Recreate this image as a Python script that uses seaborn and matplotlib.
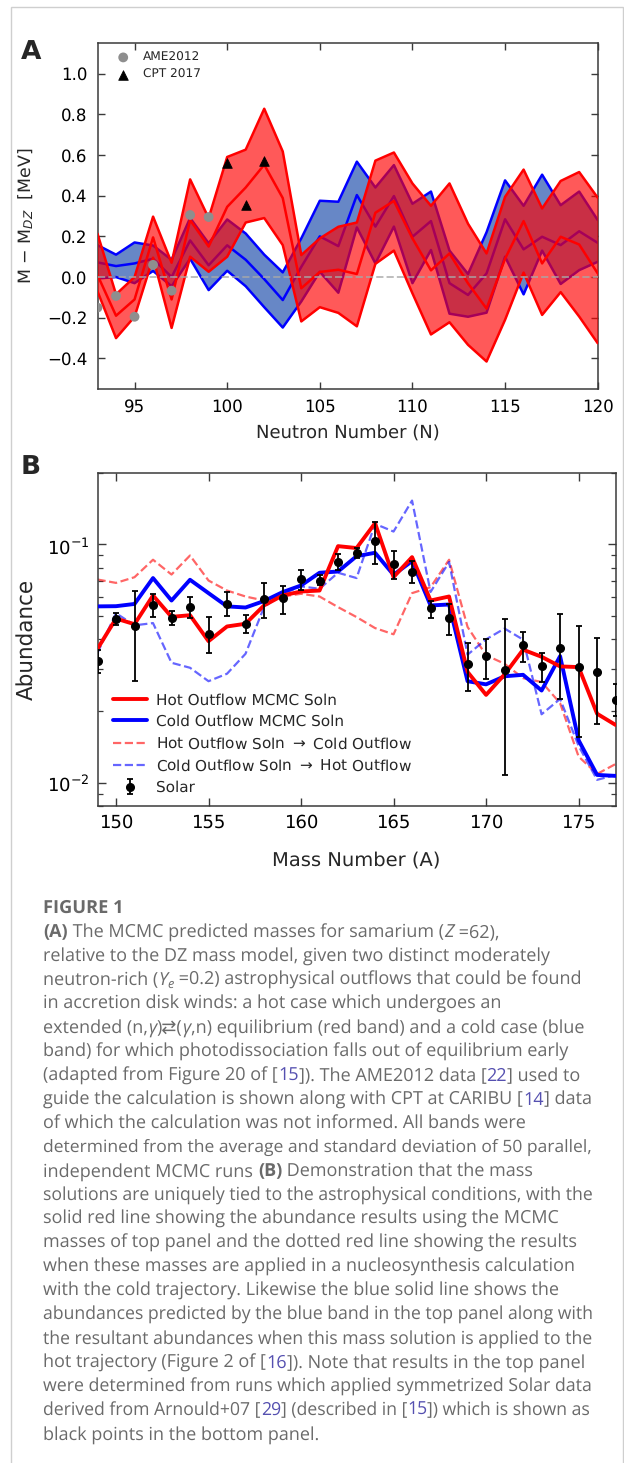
import matplotlib
matplotlib.use("Agg")
import matplotlib.pyplot as plt
import seaborn as sns
from matplotlib.ticker import NullFormatter, LogLocator, MultipleLocator
from matplotlib.patches import Rectangle

# ------------------------------------------------------------------ data A
neutron_n = list(range(93, 121))
cold_upper = [0.157, 0.11, 0.17, 0.155, 0.085, 0.29, 0.166, 0.283, 0.214, 0.11,
              0.023, 0.19, 0.375, 0.37, 0.567, 0.44, 0.55, 0.36, 0.42, 0.13,
              0.015, 0.22, 0.475, 0.35, 0.503, 0.353, 0.42, 0.28]
cold_mean = [0.072, 0.054, 0.067, 0.09, 0.0, 0.18, 0.058, 0.156, 0.085, -0.01,
             -0.113, 0.05, 0.2, 0.152, 0.403, 0.248, 0.398, 0.198, 0.275, -0.03,
             -0.088, 0.018, 0.284, 0.136, 0.198, 0.157, 0.225, 0.168]
cold_lower = [-0.007, 0.0, -0.03, 0.03, -0.045, 0.09, -0.064, 0.031, -0.045, -0.148,
              -0.248, -0.12, 0.026, -0.077, 0.244, 0.067, 0.248, -0.03, 0.133, -0.18,
              -0.195, -0.175, 0.1, -0.085, 0.13, -0.034, 0.034, 0.075]
hot_upper = [0.213, -0.085, 0.0, 0.297, 0.07, 0.48, 0.29, 0.59, 0.626, 0.827,
             0.617, 0.108, 0.19, 0.247, 0.268, 0.572, 0.612, 0.46, 0.35, 0.46,
             0.262, 0.116, 0.394, 0.528, 0.337, 0.472, 0.516, 0.39]
hot_mean = [0.01, -0.19, -0.11, 0.195, -0.11, 0.28, 0.15, 0.345, 0.44, 0.552,
            0.388, -0.055, 0.025, 0.036, 0.015, 0.316, 0.374, 0.19, 0.033, 0.116,
            -0.031, -0.155, 0.09, 0.275, 0.067, 0.198, 0.16, 0.018]
hot_lower = [-0.07, -0.30, -0.195, 0.095, -0.25, 0.1, 0.026, 0.1, 0.268, 0.29,
             0.157, -0.218, -0.148, -0.176, -0.242, 0.065, 0.13, -0.08, -0.282, -0.222,
             -0.333, -0.415, -0.21, 0.022, -0.186, -0.074, -0.194, -0.325]
ame_n = [93, 94, 95, 96, 97, 98, 99]
ame_dm = [-0.15, -0.093, -0.195, 0.06, -0.067, 0.305, 0.295]
cpt_n = [100, 101, 102]
cpt_dm = [0.56, 0.355, 0.572]

# ------------------------------------------------------------------ data B
mass_a = list(range(149, 178))
hot_mcmc = [0.0365, 0.0489, 0.0463, 0.0611, 0.0497, 0.0505, 0.0393, 0.0453, 0.0465, 0.0555,
            0.0611, 0.0635, 0.0641, 0.0984, 0.0966, 0.1228, 0.0730, 0.0885, 0.0582, 0.0605,
            0.0292, 0.0234, 0.0285, 0.0362, 0.0338, 0.0308, 0.0306, 0.0195, 0.0175]
cold_mcmc = [0.0550, 0.0551, 0.0563, 0.0723, 0.0582, 0.0711, 0.0625, 0.0550, 0.0544, 0.0579,
             0.0631, 0.0673, 0.0761, 0.0770, 0.0893, 0.0923, 0.0746, 0.0851, 0.0555, 0.0560,
             0.0267, 0.0259, 0.0280, 0.0284, 0.0244, 0.0340, 0.0151, 0.0108, 0.0107]
hot_to_cold = [0.0713, 0.0690, 0.0729, 0.0863, 0.0748, 0.0899, 0.0706, 0.0641, 0.0605, 0.0582,
               0.0605, 0.0621, 0.0605, 0.0546, 0.0496, 0.0446, 0.0420, 0.0625, 0.0662, 0.0863,
               0.0451, 0.0343, 0.0316, 0.0275, 0.0265, 0.0216, 0.0129, 0.0109, 0.0120]
cold_to_hot = [0.0351, 0.0515, 0.0458, 0.0468, 0.0319, 0.0304, 0.0267, 0.0287, 0.0348, 0.0546,
               0.0621, 0.0667, 0.0652, 0.0761, 0.0723, 0.1220, 0.1133, 0.1528, 0.0632, 0.0844,
               0.0345, 0.0400, 0.0444, 0.0399, 0.0194, 0.0225, 0.0143, 0.0103, 0.0108]
solar_y = [0.0324, 0.0485, 0.0453, 0.0555, 0.0491, 0.0546, 0.0420, 0.0563, 0.0465, 0.0588,
           0.0596, 0.0713, 0.0706, 0.0844, 0.0923, 0.1030, 0.0830, 0.0766, 0.0541, 0.0493,
           0.0316, 0.0340, 0.0297, 0.0378, 0.0308, 0.0368, 0.0306, 0.0292, 0.0222]
solar_lo = [0.0290, 0.0458, 0.0268, 0.0497, 0.0458, 0.0491, 0.0351, 0.0500, 0.0426, 0.0491,
            0.0513, 0.0646, 0.0673, 0.0778, 0.0877, 0.0825, 0.0718, 0.0689, 0.0491, 0.0416,
            0.0243, 0.0274, 0.0108, 0.0321, 0.0265, 0.0224, 0.0156, 0.0177, 0.0190]
solar_hi = [0.0360, 0.0515, 0.0638, 0.0621, 0.0526, 0.0605, 0.0497, 0.0631, 0.0507, 0.0689,
            0.0667, 0.0783, 0.0748, 0.0908, 0.0968, 0.1240, 0.0938, 0.0849, 0.0582, 0.0563,
            0.0386, 0.0402, 0.0487, 0.0430, 0.0351, 0.0509, 0.0455, 0.0407, 0.0260]

legend_b = ["Hot Outflow MCMC Soln", "Cold Outflow MCMC Soln",
            "Hot Outflow Soln $\\rightarrow$ Cold Outflow",
            "Cold Outflow Soln $\\rightarrow$ Hot Outflow", "Solar"]

# ------------------------------------------------------------------ caption text
caption_title = "FIGURE 1"
caption_lines = [
    [("(A)", "b"), (" The MCMC predicted masses for samarium (", "n"), ("Z", "i"), (" =62),", "n")],
    [("relative to the DZ mass model, given two distinct moderately", "n")],
    [("neutron-rich (", "n"), ("Y", "i"), ("e", "s"), (" =0.2) astrophysical outflows that could be found", "n")],
    [("in accretion disk winds: a hot case which undergoes an", "n")],
    [("extended (n,", "n"), ("γ", "i"), (")⇄(", "n"), ("γ", "i"), (",n) equilibrium (red band) and a cold case (blue", "n")],
    [("band) for which photodissociation falls out of equilibrium early", "n")],
    [("(adapted from Figure 20 of [", "n"), ("15", "l"), ("]). The AME2012 data [", "n"), ("22", "l"), ("] used to", "n")],
    [("guide the calculation is shown along with CPT at CARIBU [", "n"), ("14", "l"), ("] data", "n")],
    [("of which the calculation was not informed. All bands were", "n")],
    [("determined from the average and standard deviation of 50 parallel,", "n")],
    [("independent MCMC runs ", "n"), ("(B)", "b"), (" Demonstration that the mass", "n")],
    [("solutions are uniquely tied to the astrophysical conditions, with the", "n")],
    [("solid red line showing the abundance results using the MCMC", "n")],
    [("masses of top panel and the dotted red line showing the results", "n")],
    [("when these masses are applied in a nucleosynthesis calculation", "n")],
    [("with the cold trajectory. Likewise the blue solid line shows the", "n")],
    [("abundances predicted by the blue band in the top panel along with", "n")],
    [("the resultant abundances when this mass solution is applied to the", "n")],
    [("hot trajectory (Figure 2 of [", "n"), ("16", "l"), ("]). Note that results in the top panel", "n")],
    [("were determined from runs which applied symmetrized Solar data", "n")],
    [("derived from Arnould+07 [", "n"), ("29", "l"), ("] (described in [", "n"), ("15", "l"), ("]) which is shown as", "n")],
    [("black points in the bottom panel.", "n")],
]
line_right = [513.3, 563, 591.7, 517.3, 591.7, 577, 591.7, 591.7, 541.2, 591, 540,
              591.7, 571.8, 588, 583.8, 574.2, 591.7, 591.7, 591.7, 591.7, 591.7, 325.5]

# ------------------------------------------------------------------ style
sns.set_style("ticks")
plt.rcParams.update({
    "font.family": ["DejaVu Sans"],
    "xtick.direction": "in", "ytick.direction": "in",
    "xtick.top": True, "ytick.right": True,
    "axes.edgecolor": "#3a3a3a", "axes.linewidth": 1.1,
    "xtick.color": "#3a3a3a", "ytick.color": "#3a3a3a",
    "xtick.labelcolor": "black", "ytick.labelcolor": "black",
    "text.hinting": "no_hinting",
})

W, H = 624, 1463
fig = plt.figure(figsize=(W / 100, H / 100), dpi=100)


def rect(l, t, r, b):
    return [l / W, 1 - b / H, (r - l) / W, (b - t) / H]


# border frame
fig.add_artist(Rectangle((11 / W, -0.05), 611.5 / W, 1.05 - 7 / H, transform=fig.transFigure,
                         fill=False, edgecolor="#cfcfcf", lw=1.0, clip_on=False))

# ------------------------------------------------------------------ panel A
axA = fig.add_axes(rect(97.5, 43, 597.7, 389))
axA.fill_between(neutron_n, cold_lower, cold_upper, color="#6787c6", lw=0, zorder=1)
for arr in (cold_upper, cold_mean, cold_lower):
    sns.lineplot(x=neutron_n, y=arr, color="blue", lw=1.8, ax=axA, zorder=2)
axA.fill_between(neutron_n, hot_lower, hot_upper, color="red", alpha=0.65, lw=0, zorder=3)
for arr in (hot_upper, hot_mean, hot_lower):
    sns.lineplot(x=neutron_n, y=arr, color="red", lw=1.8, ax=axA, zorder=4)
axA.axhline(0, color="#a8a8a8", ls="--", lw=1.4, alpha=0.75, zorder=4.5)
sns.scatterplot(x=ame_n, y=ame_dm, color="#8e8e8e", marker="o", s=50, edgecolor="none",
                label="AME2012", ax=axA, zorder=6)
sns.scatterplot(x=cpt_n, y=cpt_dm, color="black", marker="^", s=48, edgecolor="black",
                label="CPT 2017", ax=axA, zorder=6)
axA.set_xlim(93, 120)
axA.set_ylim(-0.55, 1.15)
axA.xaxis.set_major_locator(MultipleLocator(5))
axA.yaxis.set_major_locator(MultipleLocator(0.2))
axA.tick_params(labelsize=12, length=5, width=1, pad=7)
axA.set_xlabel("Neutron Number (N)", fontsize=13, labelpad=7)
axA.set_ylabel(r"M $-$ M$_{DZ}$  [MeV]", fontsize=12.5, labelpad=8)
axA.legend(loc="upper left", frameon=False, fontsize=8.7, handletextpad=1.0,
           borderaxespad=0.3, bbox_to_anchor=(0.02, 1.0), handlelength=1.2)
fig.text(21 / W, 1 - 59 / H, "A", fontsize=19, fontweight="bold", va="baseline")

# ------------------------------------------------------------------ panel B
axB = fig.add_axes(rect(97.5, 472.7, 615.6, 806))
sns.lineplot(x=mass_a, y=hot_to_cold, color="red", alpha=0.6, ls="--", lw=1.6,
             label=legend_b[2], ax=axB, zorder=2)
sns.lineplot(x=mass_a, y=cold_to_hot, color="blue", alpha=0.6, ls="--", lw=1.6,
             label=legend_b[3], ax=axB, zorder=2)
sns.lineplot(x=mass_a, y=cold_mcmc, color="blue", lw=2.8, label=legend_b[1], ax=axB, zorder=3)
sns.lineplot(x=mass_a, y=hot_mcmc, color="red", lw=2.8, label=legend_b[0], ax=axB, zorder=4)
err_lo = [y - lo for y, lo in zip(solar_y, solar_lo)]
err_hi = [hi - y for y, hi in zip(solar_y, solar_hi)]
axB.errorbar(mass_a, solar_y, yerr=[err_lo, err_hi], fmt="o", color="black", ms=5.5,
             capsize=2.5, elinewidth=1.3, capthick=1.3, label=legend_b[4], zorder=6)
axB.set_yscale("log")
axB.set_xlim(149, 177)
axB.set_ylim(0.008, 0.2)
axB.xaxis.set_major_locator(MultipleLocator(5))
axB.yaxis.set_minor_locator(LogLocator(base=10, subs=range(2, 10)))
axB.yaxis.set_minor_formatter(NullFormatter())
axB.tick_params(which="major", labelsize=13, length=6, width=1, pad=6)
axB.tick_params(which="minor", length=3.5, width=0.9)
axB.set_xlabel("Mass Number (A)", fontsize=14, labelpad=14)
axB.set_ylabel("Abundance", fontsize=15.5, labelpad=6)
handles, labels = axB.get_legend_handles_labels()
order = [labels.index(l) for l in legend_b]
axB.legend([handles[i] for i in order], [labels[i] for i in order], loc="lower left",
           frameon=False, fontsize=11, handlelength=2.2, handletextpad=0.6,
           labelspacing=0.45, borderaxespad=0.3, bbox_to_anchor=(0.01, 0.0))
fig.text(21 / W, 1 - 474 / H, "B", fontsize=19, fontweight="bold", va="baseline")

# ------------------------------------------------------------------ caption
renderer = fig.canvas.get_renderer()
CAP_FONT = ["Open Sans", "DejaVu Sans"]
GRAY = "#6a6a6a"
LINK = "#5550b0"


def props(kind, size):
    p = dict(family=CAP_FONT, color=GRAY, fontsize=size)
    if kind == "b":
        p["fontweight"] = "bold"
    if kind in ("i", "s"):
        p["fontstyle"] = "italic"
    if kind == "s":
        p["fontsize"] = size * 0.7
    if kind == "l":
        p["color"] = LINK
    return p


def text_w(s, p):
    t = fig.text(0, 0, s, **p)
    w = t.get_window_extent(renderer=renderer).width
    t.remove()
    return w


def run_w(s, p):
    return text_w("|" + s + "|", p) - text_w("||", p)


def draw_line(runs, x0, ybase, size, right):
    nat = sum(run_w(s, props(k, size)) for s, k in runs)
    scale = min(max((right - x0) / nat, 0.95), 1.10)
    sz = size * scale
    x = x0
    for s, k in runs:
        p = props(k, sz)
        dy = 3.0 if k == "s" else 0.0
        fig.text(x / W, 1 - (ybase + dy) / H, s, va="baseline", ha="left", **p)
        x += run_w(s, p)


LEFT = 43.4
draw_line([(caption_title, "b")], LEFT, 912.7, 12.5, 123.8)
for k, runs in enumerate(caption_lines):
    draw_line(runs, LEFT, 937.3 + 23.9 * k, 11.8, line_right[k])

fig.savefig("out.png", dpi=100)
